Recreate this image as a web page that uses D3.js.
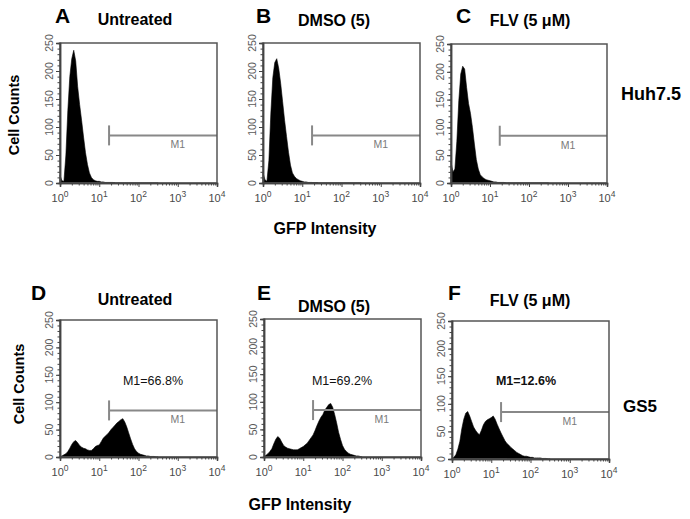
<!DOCTYPE html>
<html><head><meta charset="utf-8">
<script src="https://cdn.jsdelivr.net/npm/d3@7"></script>
<style>
html,body{margin:0;padding:0;background:#fff;}
svg{display:block;}
</style></head>
<body>
<svg id="chart" width="690" height="519"></svg>
<script>
// ---------- data ----------
const panelLetters = ["A","B","C","D","E","F"];
const panelTitles = ["Untreated","DMSO (5)","FLV (5 \u03bcM)","Untreated","DMSO (5)","FLV (5 \u03bcM)"];
const cellLines = ["Huh7.5","GS5"];
const m1Labels = [null,null,null,"M1=66.8%","M1=69.2%","M1=12.6%"];
const yTicks = [0,50,100,150,200,250];
const xTickExp = [0,1,2,3,4];
const gateStartLog = 1.25;   // gate M1 begins at ~10^1.25
const gateEndLog = 4;
const gateLevel = 85;        // count level where the gate bar is drawn
// bin positions (log10 GFP intensity)
const binLog = [0,0.05,0.1,0.15,0.2,0.25,0.3,0.35,0.4,0.45,0.5,0.55,0.6,0.65,0.7,0.75,0.8,0.85,0.9,0.95,
 1,1.05,1.1,1.15,1.2,1.25,1.3,1.35,1.4,1.45,1.5,1.55,1.6,1.65,1.7,1.75,1.8,1.85,1.9,1.95,
 2,2.05,2.1,2.15,2.2,2.25,2.3,2.35,2.4,2.45,2.5];
const countsA = [14,4,3,50,130,190,222,237,218,172,140,112,82,54,33,18,10,6,4,3,
 3,2,2,1,1,1,1,1,0,0,0,0,0,0,0,0,0,0,0,0, 0,0,0,0,0,0,0,0,0,0,0];
const countsB = [18,6,3,40,125,188,215,222,205,178,145,112,83,55,32,18,12,8,6,4,
 3,2,2,1,1,1,0,0,0,0,0,0,0,0,0,0,0,0,0,0, 0,0,0,0,0,0,0,0,0,0,0];
const countsC = [38,20,25,75,148,196,210,205,172,143,125,100,70,42,25,15,11,8,6,5,
 4,3,2,2,1,1,1,1,0,0,0,0,0,0,0,0,0,0,0,0, 0,0,0,0,0,0,0,0,0,0,0];
const countsD = [1,2,4,6,10,16,23,28,30,26,21,18,16,15,13,12,12,15,19,21,
 22,28,34,38,41,45,50,54,58,62,65,68,70,64,55,44,33,23,15,10,
 7,5,4,3,2,2,1,1,1,0,0];
const countsE = [1,3,6,10,15,24,32,37,34,27,21,18,16,15,14,13,13,13,15,17,
 19,22,25,30,35,40,48,57,65,72,77,85,90,95,97,90,77,62,45,32,
 21,14,10,7,5,4,3,2,2,1,0];
const countsF = [1,3,8,18,32,55,72,83,86,78,68,58,52,47,44,52,62,68,71,73,
 75,78,72,63,55,47,40,33,28,25,21,18,15,12,10,8,6,5,5,4,
 3,3,2,2,2,2,1,1,1,0,0];
const allCounts = [countsA,countsB,countsC,countsD,countsE,countsF];

// ---------- layout ----------
const frames = [
  {x:60, y:43, w:157, h:140},
  {x:263,y:43, w:157, h:140},
  {x:451,y:44, w:156, h:139},
  {x:60, y:320,w:157, h:137},
  {x:264,y:319,w:157, h:138},
  {x:452,y:321,w:157, h:138}
];
const letterPos = [[55,23],[256,23],[456,23],[31,300],[257,300],[448,300]];
const titlePos = [[135,25],[334,26],[530,26],[135,305],[334,312],[530,306]];
const m1Pos = [null,null,null,[153,385],[342,385],[526,385]];

const svg = d3.select("#chart");
const font = "'Liberation Sans', Arial, sans-serif";

frames.forEach((f,i)=>{
  const g = svg.append("g").attr("transform",`translate(${f.x},${f.y})`);
  const x = d3.scaleLog().domain([1,1e4]).range([0,f.w]);
  const y = d3.scaleLinear().domain([0,250]).range([f.h,0]);
  const data = binLog.map((b,k)=>({v:Math.pow(10,b), c:allCounts[i][k]}));
  const area = d3.area().x(d=>x(d.v)).y0(y(0)).y1(d=>y(d.c)).curve(d3.curveLinear);
  g.append("path").datum(data).attr("d",area).attr("fill","#000").attr("stroke","#000").attr("stroke-width",0.6);

  // baseline noise line
  g.append("line").attr("x1",0).attr("x2",x(10**1.4)).attr("y1",y(0)-0.5).attr("y2",y(0)-0.5)
    .attr("stroke","#222").attr("stroke-width",1.2);

  // gate M1
  const gy = y(gateLevel);
  const gx0 = x(Math.pow(10,gateStartLog)), gx1 = x(Math.pow(10,gateEndLog));
  g.append("line").attr("x1",gx0).attr("x2",gx1).attr("y1",gy).attr("y2",gy)
    .attr("stroke","#888").attr("stroke-width",2);
  g.append("line").attr("x1",gx0).attr("x2",gx0).attr("y1",gy-10).attr("y2",gy+10)
    .attr("stroke","#888").attr("stroke-width",2);
  g.append("text").attr("x",x(1000)).attr("y",gy+13).attr("text-anchor","middle")
    .attr("font-family",font).attr("font-size",10.5).attr("fill","#7a7a7a").text("M1");

  // frame
  g.append("rect").attr("x",0).attr("y",0).attr("width",f.w).attr("height",f.h)
    .attr("fill","none").attr("stroke","#555").attr("stroke-width",1.5);

  // x axis major/minor
  const xMinor = x.ticks().filter(v=>!xTickExp.map(e=>Math.pow(10,e)).includes(v));
  const xa = g.append("g").attr("transform",`translate(0,${f.h})`)
    .call(d3.axisBottom(x).tickValues(xTickExp.map(e=>Math.pow(10,e))).tickSize(4).tickFormat(""));
  const xm = g.append("g").attr("transform",`translate(0,${f.h})`)
    .call(d3.axisBottom(x).tickValues(xMinor).tickSize(2.5).tickFormat(""));
  [xa,xm].forEach(a=>{a.select(".domain").attr("stroke","#444").attr("stroke-width",1.5);
    a.selectAll("line").attr("stroke","#444").attr("stroke-width",1);});
  xTickExp.forEach(e=>{
    const t = g.append("text").attr("x",x(Math.pow(10,e))).attr("y",f.h+19)
      .attr("text-anchor","middle").attr("font-family",font).attr("fill","#4a4a4a");
    t.append("tspan").attr("font-size",11).text("10");
    t.append("tspan").attr("font-size",8.5).attr("dy",-5).text(e);
  });

  // y axis major/minor
  const ya = g.append("g").call(d3.axisLeft(y).tickValues(yTicks).tickSize(4).tickFormat(""));
  const ym = g.append("g").call(d3.axisLeft(y).ticks(25).tickSize(2.5).tickFormat(""));
  [ya,ym].forEach(a=>{a.select(".domain").attr("stroke","#444").attr("stroke-width",1.5);
    a.selectAll("line").attr("stroke","#444").attr("stroke-width",1);});
  yTicks.forEach(v=>{
    g.append("text").attr("transform",`translate(-7,${y(v)}) rotate(-90)`)
      .attr("text-anchor","middle").attr("font-family",font).attr("font-size",10.5)
      .attr("fill","#5a5a5a").text(v);
  });

  // panel letter & title
  svg.append("text").attr("x",letterPos[i][0]).attr("y",letterPos[i][1])
    .attr("font-family",font).attr("font-weight","bold").attr("font-size",21).attr("fill","#000")
    .text(panelLetters[i]);
  svg.append("text").attr("x",titlePos[i][0]).attr("y",titlePos[i][1]).attr("text-anchor","middle")
    .attr("font-family",font).attr("font-weight","bold").attr("font-size",16).attr("fill","#000")
    .text(panelTitles[i]);
  if (m1Labels[i]) {
    svg.append("text").attr("x",m1Pos[i][0]).attr("y",m1Pos[i][1]).attr("text-anchor","middle")
      .attr("font-family",font).attr("font-weight", i===5 ? "bold" : "normal")
      .attr("font-size",12.5).attr("fill","#111").text(m1Labels[i]);
  }
});

// axis titles
[[14,115],[19,384]].forEach(p=>{
  svg.append("text").attr("transform",`translate(${p[0]+5},${p[1]}) rotate(-90)`)
    .attr("text-anchor","middle").attr("font-family",font).attr("font-weight","bold")
    .attr("font-size",14.5).attr("fill","#000").text("Cell Counts");
});
[[325,234],[300,510]].forEach(p=>{
  svg.append("text").attr("x",p[0]).attr("y",p[1]).attr("text-anchor","middle")
    .attr("font-family",font).attr("font-weight","bold").attr("font-size",16).attr("fill","#000")
    .text("GFP Intensity");
});
// cell line labels
svg.append("text").attr("x",621).attr("y",100).attr("font-family",font).attr("font-weight","bold")
  .attr("font-size",18).attr("fill","#000").text(cellLines[0]);
svg.append("text").attr("x",623).attr("y",412).attr("font-family",font).attr("font-weight","bold")
  .attr("font-size",17).attr("fill","#000").text(cellLines[1]);
</script>
</body></html>
